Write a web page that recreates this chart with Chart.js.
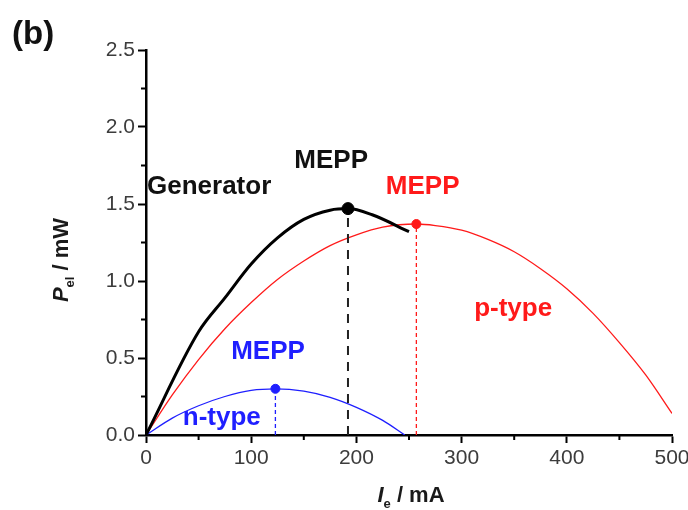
<!DOCTYPE html>
<html>
<head>
<meta charset="utf-8">
<script src="https://cdn.jsdelivr.net/npm/chart.js@4"></script>
<style>
  html, body { margin: 0; padding: 0; background: #fff; }
  #wrap { width: 688px; height: 510px; position: relative; }
</style>
</head>
<body>
<div id="wrap"><canvas id="chart"></canvas></div>
<script>
// generator curve (I in mA, P in mW)
const genI = [0, 50, 75, 100, 125, 150, 175, 192, 215, 250];
const genP = [0, 0.67, 0.89, 1.11, 1.28, 1.40, 1.46, 1.47, 1.43, 1.32];

// p-type leg
const pI = [0, 25, 50, 75, 100, 125, 150, 175, 200, 225, 257, 275, 300, 325, 350, 375, 400, 425, 450, 475, 500];
const pP = [0, 0.26, 0.49, 0.69, 0.86, 1.01, 1.13, 1.23, 1.30, 1.35, 1.37, 1.36, 1.33, 1.27, 1.19, 1.08, 0.95, 0.79, 0.60, 0.39, 0.14];

// n-type leg
const nI = [0, 25, 50, 75, 100, 123, 150, 175, 200, 225, 246];
const nP = [0, 0.11, 0.19, 0.25, 0.29, 0.30, 0.285, 0.245, 0.18, 0.095, 0];

// maximum electrical power points
const mepp = {
  gen: [192, 1.47],
  p: [257, 1.37],
  n: [123, 0.30]
};

const xTicks = [0, 100, 200, 300, 400, 500];
const yTicks = [0, 0.5, 1.0, 1.5, 2.0, 2.5];

const FONT = "'Liberation Sans', Arial, sans-serif";
const RED = "#ff1a1a";
const BLUE = "#1f1fff";

const pts = (xs, ys) => xs.map((x, i) => ({ x, y: ys[i] }));
const vline = (p) => [{ x: p[0], y: 0 }, { x: p[0], y: p[1] }];

// labels placed in data coordinates
const notes = [
  { text: "Generator", x: 60, y: 1.61, color: "#111" },
  { text: "MEPP", x: 176, y: 1.78, color: "#111" },
  { text: "MEPP", x: 263, y: 1.61, color: RED },
  { text: "p-type", x: 349, y: 0.82, color: RED },
  { text: "MEPP", x: 116, y: 0.54, color: BLUE },
  { text: "n-type", x: 72, y: 0.11, color: BLUE }
];

const extras = {
  id: "extras",
  afterDraw(chart) {
    const { ctx, scales } = chart;
    const xs = scales.x, ys = scales.y;
    ctx.save();

    // minor ticks
    ctx.strokeStyle = "#000";
    ctx.lineWidth = 2;
    ctx.beginPath();
    for (let v = 50; v < 500; v += 100) {
      const px = xs.getPixelForValue(v);
      ctx.moveTo(px, ys.bottom);
      ctx.lineTo(px, ys.bottom + 5);
    }
    for (let v = 0.25; v < 2.5; v += 0.5) {
      const py = ys.getPixelForValue(v);
      ctx.moveTo(xs.left, py);
      ctx.lineTo(xs.left - 5, py);
    }
    ctx.stroke();

    // curve labels
    ctx.font = "bold 26px " + FONT;
    ctx.textAlign = "center";
    ctx.textBaseline = "middle";
    for (const n of notes) {
      ctx.fillStyle = n.color;
      ctx.fillText(n.text, xs.getPixelForValue(n.x), ys.getPixelForValue(n.y));
    }

    // panel tag
    ctx.fillStyle = "#111";
    ctx.textAlign = "left";
    ctx.textBaseline = "alphabetic";
    ctx.font = "bold 33px " + FONT;
    ctx.fillText("(b)", 12, 44);

    // axis titles with subscripts
    const drawTitle = (parts) => {
      let w = 0;
      for (const p of parts) { ctx.font = p.font; w += ctx.measureText(p.t).width; }
      let cx = -w / 2;
      for (const p of parts) {
        ctx.font = p.font;
        ctx.fillText(p.t, cx, p.dy || 0);
        cx += ctx.measureText(p.t).width;
      }
    };
    ctx.fillStyle = "#1a1a1a";
    ctx.save();
    ctx.translate(411, 502);
    drawTitle([
      { t: "I", font: "italic bold 22px " + FONT },
      { t: "e", font: "bold 13px " + FONT, dy: 6 },
      { t: " / mA", font: "bold 22px " + FONT }
    ]);
    ctx.restore();

    ctx.save();
    ctx.translate(68, 260);
    ctx.rotate(-Math.PI / 2);
    drawTitle([
      { t: "P", font: "italic bold 22px " + FONT },
      { t: "el", font: "bold 13px " + FONT, dy: 6 },
      { t: " / mW", font: "bold 22px " + FONT }
    ]);
    ctx.restore();

    ctx.restore();
  }
};

const axisCommon = {
  border: { display: true, color: "#000", width: 2.5 },
  grid: { drawOnChartArea: false, drawTicks: true, tickLength: 8, tickWidth: 2, tickColor: "#000" },
  ticks: { color: "#3c3c3c", font: { family: FONT, size: 21 }, padding: 3 }
};

new Chart(document.getElementById("chart"), {
  type: "scatter",
  data: {
    datasets: [
      { data: [{ x: mepp.gen[0], y: mepp.gen[1] }], pointRadius: 6, backgroundColor: "#000", borderColor: "#000", showLine: false },
      { data: pts(genI, genP), showLine: true, borderColor: "#000", borderWidth: 3, pointRadius: 0, cubicInterpolationMode: "monotone" },
      { data: vline(mepp.gen), showLine: true, borderColor: "#222", borderWidth: 2, borderDash: [9, 7], pointRadius: 0 },
      { data: [{ x: mepp.p[0], y: mepp.p[1] }], pointRadius: 4.5, backgroundColor: RED, borderColor: RED, showLine: false },
      { data: pts(pI, pP), showLine: true, borderColor: RED, borderWidth: 1.3, pointRadius: 0, cubicInterpolationMode: "monotone" },
      { data: vline(mepp.p), showLine: true, borderColor: RED, borderWidth: 1.3, borderDash: [4, 3], pointRadius: 0 },
      { data: [{ x: mepp.n[0], y: mepp.n[1] }], pointRadius: 4.5, backgroundColor: BLUE, borderColor: BLUE, showLine: false },
      { data: pts(nI, nP), showLine: true, borderColor: BLUE, borderWidth: 1.3, pointRadius: 0, cubicInterpolationMode: "monotone" },
      { data: vline(mepp.n), showLine: true, borderColor: BLUE, borderWidth: 1.3, borderDash: [4, 3], pointRadius: 0 }
    ]
  },
  options: {
    responsive: true,
    maintainAspectRatio: false,
    animation: false,
    layout: { autoPadding: false, padding: { top: 50, right: 16, left: 0, bottom: 0 } },
    plugins: { legend: { display: false }, tooltip: { enabled: false } },
    scales: {
      x: {
        ...axisCommon,
        type: "linear",
        min: 0,
        max: 500,
        afterBuildTicks: (s) => { s.ticks = xTicks.map((v) => ({ value: v })); },
        afterFit: (s) => { s.height = 75; s.paddingLeft = 0; s.paddingRight = 0; }
      },
      y: {
        ...axisCommon,
        type: "linear",
        min: 0,
        max: 2.5,
        afterBuildTicks: (s) => { s.ticks = yTicks.map((v) => ({ value: v })); },
        ticks: { ...axisCommon.ticks, callback: (v) => v.toFixed(1) },
        afterFit: (s) => { s.width = 146; s.paddingTop = 0; s.paddingBottom = 0; }
      }
    }
  },
  plugins: [extras]
});
</script>
</body>
</html>
